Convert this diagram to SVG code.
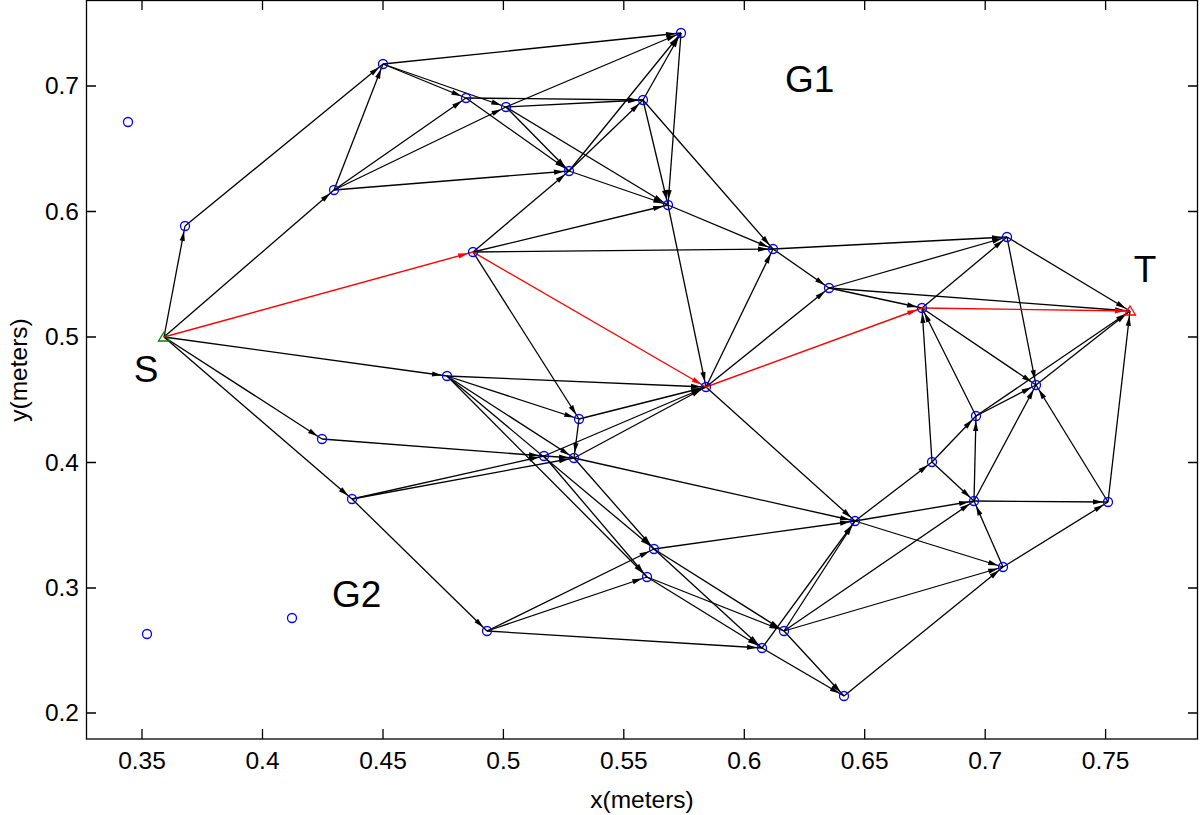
<svg xmlns="http://www.w3.org/2000/svg" width="1200" height="815" viewBox="0 0 1200 815">
<style>
.ax{fill:none;stroke:#000;stroke-width:1.3}
.tk{font-family:"Liberation Sans",Arial,sans-serif;font-size:24.5px;fill:#000}
.lb{font-family:"Liberation Sans",Arial,sans-serif;font-size:37px;fill:#000}
.e{stroke:#000;stroke-width:1.3;fill:none;marker-end:url(#ab)}
.r{stroke:#f00;stroke-width:1.4;fill:none;marker-end:url(#ar)}
.n{fill:none;stroke:#00f;stroke-width:1.3}
</style>
<defs>
<marker id="ab" markerUnits="userSpaceOnUse" orient="auto" refX="5" refY="0" markerWidth="20" markerHeight="10" viewBox="-15 -5 20 10" overflow="visible"><path d="M0,0 L-10,-2.6 L-10,2.6 z" fill="#000"/></marker>
<marker id="ar" markerUnits="userSpaceOnUse" orient="auto" refX="5" refY="0" markerWidth="20" markerHeight="10" viewBox="-15 -5 20 10" overflow="visible"><path d="M0,0 L-10,-2.6 L-10,2.6 z" fill="#f00"/></marker>
</defs>
<rect width="1200" height="815" fill="#fff"/>
<g id="axes">
<rect class="ax" x="86.5" y="0.5" width="1111" height="738.5"/>
<path class="ax" d="M142,739v-10M262.5,739v-10M383,739v-10M503.4,739v-10M623.8,739v-10M744.3,739v-10M864.7,739v-10M985.2,739v-10M1105.6,739v-10M142,0v10M262.5,0v10M383,0v10M503.4,0v10M623.8,0v10M744.3,0v10M864.7,0v10M985.2,0v10M1105.6,0v10M86,713h10M86,588h10M86,462.5h10M86,337h10M86,211.5h10M86,86h10M1198,713h-10M1198,588h-10M1198,462.5h-10M1198,337h-10M1198,211.5h-10M1198,86h-10"/>
<g class="tk" text-anchor="middle">
<text x="142" y="769">0.35</text><text x="262.5" y="769">0.4</text><text x="383" y="769">0.45</text><text x="503.4" y="769">0.5</text><text x="623.8" y="769">0.55</text><text x="744.3" y="769">0.6</text><text x="864.7" y="769">0.65</text><text x="985.2" y="769">0.7</text><text x="1105.6" y="769">0.75</text>
</g>
<g class="tk" text-anchor="end">
<text x="79" y="721">0.2</text><text x="79" y="596">0.3</text><text x="79" y="470.5">0.4</text><text x="79" y="345">0.5</text><text x="79" y="219.5">0.6</text><text x="79" y="94">0.7</text>
</g>
<text class="tk" x="642" y="808" text-anchor="middle">x(meters)</text>
<text class="tk" x="0" y="0" text-anchor="middle" transform="translate(27,370) rotate(-90)">y(meters)</text>
</g>
<g id="labels">
<text class="lb" x="785" y="92">G1</text>
<text class="lb" x="332" y="607">G2</text>
<text class="lb" x="146" y="382" text-anchor="middle">S</text>
<text class="lb" x="1145" y="282" text-anchor="middle">T</text>
</g>
<g id="connectors">
<path class="e" d="M164,337L185,226"/>
<path class="e" d="M164,337L334,190"/>
<path class="e" d="M164,337L447,376"/>
<path class="e" d="M164,337L322,439"/>
<path class="e" d="M164,337L352,499"/>
<path class="e" d="M185,226L383,64"/>
<path class="e" d="M334,190L383,64"/>
<path class="e" d="M334,190L466,98"/>
<path class="e" d="M334,190L506,107"/>
<path class="e" d="M334,190L569,171"/>
<path class="e" d="M383,64L681,33"/>
<path class="e" d="M383,64L466,98"/>
<path class="e" d="M383,64L506,107"/>
<path class="e" d="M466,98L643,100"/>
<path class="e" d="M466,98L569,171"/>
<path class="e" d="M506,107L643,100"/>
<path class="e" d="M506,107L569,171"/>
<path class="e" d="M506,107L668,205"/>
<path class="e" d="M506,107L681,33"/>
<path class="e" d="M569,171L681,33"/>
<path class="e" d="M569,171L643,100"/>
<path class="e" d="M569,171L668,205"/>
<path class="e" d="M643,100L681,33"/>
<path class="e" d="M643,100L668,205"/>
<path class="e" d="M643,100L773,249"/>
<path class="e" d="M681,33L668,205"/>
<path class="e" d="M668,205L773,249"/>
<path class="e" d="M668,205L706,387"/>
<path class="e" d="M773,249L829,288"/>
<path class="e" d="M773,249L1007,237"/>
<path class="e" d="M473,252L569,171"/>
<path class="e" d="M473,252L668,205"/>
<path class="e" d="M473,252L773,249"/>
<path class="e" d="M473,252L579,419"/>
<path class="e" d="M829,288L1007,237"/>
<path class="e" d="M829,288L1130,311"/>
<path class="e" d="M829,288L922,308"/>
<path class="e" d="M1007,237L1130,311"/>
<path class="e" d="M1007,237L1036,385"/>
<path class="e" d="M922,308L1007,237"/>
<path class="e" d="M922,308L1036,385"/>
<path class="e" d="M447,376L706,387"/>
<path class="e" d="M447,376L579,419"/>
<path class="e" d="M447,376L574,458"/>
<path class="e" d="M447,376L654,549"/>
<path class="e" d="M447,376L647,577"/>
<path class="e" d="M706,387L773,249"/>
<path class="e" d="M706,387L829,288"/>
<path class="e" d="M706,387L855,521"/>
<path class="e" d="M579,419L706,387"/>
<path class="e" d="M579,419L574,458"/>
<path class="e" d="M322,439L544,456"/>
<path class="e" d="M544,456L574,458"/>
<path class="e" d="M544,456L706,387"/>
<path class="e" d="M544,456L647,577"/>
<path class="e" d="M574,458L706,387"/>
<path class="e" d="M574,458L855,521"/>
<path class="e" d="M574,458L654,549"/>
<path class="e" d="M352,499L544,456"/>
<path class="e" d="M352,499L574,458"/>
<path class="e" d="M352,499L487,631"/>
<path class="e" d="M1036,385L1130,311"/>
<path class="e" d="M976,416L922,308"/>
<path class="e" d="M976,416L1036,385"/>
<path class="e" d="M976,416L1130,311"/>
<path class="e" d="M932,462L922,308"/>
<path class="e" d="M932,462L976,416"/>
<path class="e" d="M932,462L974,501"/>
<path class="e" d="M974,501L976,416"/>
<path class="e" d="M974,501L1036,385"/>
<path class="e" d="M974,501L1108,502"/>
<path class="e" d="M1108,502L1130,311"/>
<path class="e" d="M1108,502L1036,385"/>
<path class="e" d="M855,521L932,462"/>
<path class="e" d="M855,521L974,501"/>
<path class="e" d="M855,521L1003,567"/>
<path class="e" d="M654,549L855,521"/>
<path class="e" d="M654,549L784,631"/>
<path class="e" d="M654,549L762,648"/>
<path class="e" d="M647,577L784,631"/>
<path class="e" d="M647,577L762,648"/>
<path class="e" d="M1003,567L974,501"/>
<path class="e" d="M1003,567L1108,502"/>
<path class="e" d="M487,631L654,549"/>
<path class="e" d="M487,631L647,577"/>
<path class="e" d="M487,631L762,648"/>
<path class="e" d="M784,631L855,521"/>
<path class="e" d="M784,631L974,501"/>
<path class="e" d="M784,631L1003,567"/>
<path class="e" d="M784,631L844,696"/>
<path class="e" d="M762,648L855,521"/>
<path class="e" d="M762,648L844,696"/>
<path class="e" d="M844,696L1003,567"/>
<path class="r" d="M164,337L473,252"/>
<path class="r" d="M473,252L706,387"/>
<path class="r" d="M706,387L922,308"/>
<path class="r" d="M922,308L1130,311"/>
</g>
<g id="nodes">
<circle id="n1" class="n" cx="128" cy="122" r="4.5"/>
<circle id="n2" class="n" cx="185" cy="226" r="4.5"/>
<circle id="n3" class="n" cx="334" cy="190" r="4.5"/>
<circle id="n4" class="n" cx="383" cy="64" r="4.5"/>
<circle id="n5" class="n" cx="466" cy="98" r="4.5"/>
<circle id="n6" class="n" cx="506" cy="107" r="4.5"/>
<circle id="n7" class="n" cx="569" cy="171" r="4.5"/>
<circle id="n8" class="n" cx="643" cy="100" r="4.5"/>
<circle id="n9" class="n" cx="681" cy="33" r="4.5"/>
<circle id="n10" class="n" cx="668" cy="205" r="4.5"/>
<circle id="n11" class="n" cx="773" cy="249" r="4.5"/>
<circle id="n12" class="n" cx="473" cy="252" r="4.5"/>
<circle id="n13" class="n" cx="829" cy="288" r="4.5"/>
<circle id="n14" class="n" cx="1007" cy="237" r="4.5"/>
<circle id="n15" class="n" cx="922" cy="308" r="4.5"/>
<circle id="n18" class="n" cx="447" cy="376" r="4.5"/>
<circle id="n19" class="n" cx="706" cy="387" r="4.5"/>
<circle id="n20" class="n" cx="579" cy="419" r="4.5"/>
<circle id="n21" class="n" cx="322" cy="439" r="4.5"/>
<circle id="n22" class="n" cx="544" cy="456" r="4.5"/>
<circle id="n23" class="n" cx="574" cy="458" r="4.5"/>
<circle id="n24" class="n" cx="352" cy="499" r="4.5"/>
<circle id="n25" class="n" cx="1036" cy="385" r="4.5"/>
<circle id="n26" class="n" cx="976" cy="416" r="4.5"/>
<circle id="n27" class="n" cx="932" cy="462" r="4.5"/>
<circle id="n28" class="n" cx="974" cy="501" r="4.5"/>
<circle id="n29" class="n" cx="1108" cy="502" r="4.5"/>
<circle id="n30" class="n" cx="855" cy="521" r="4.5"/>
<circle id="n31" class="n" cx="654" cy="549" r="4.5"/>
<circle id="n32" class="n" cx="647" cy="577" r="4.5"/>
<circle id="n33" class="n" cx="1003" cy="567" r="4.5"/>
<circle id="n34" class="n" cx="487" cy="631" r="4.5"/>
<circle id="n35" class="n" cx="784" cy="631" r="4.5"/>
<circle id="n36" class="n" cx="762" cy="648" r="4.5"/>
<circle id="n37" class="n" cx="844" cy="696" r="4.5"/>
<circle id="n38" class="n" cx="147" cy="634" r="4.5"/>
<circle id="n39" class="n" cx="292" cy="618" r="4.5"/>
<g id="S"><path d="M164,332L169.5,341H158.5Z" fill="none" stroke="#008000" stroke-width="1.3"/></g>
<g id="T"><path d="M1130,306L1135.5,315H1124.5Z" fill="none" stroke="#f00" stroke-width="1.3"/></g>
</g>
</svg>
